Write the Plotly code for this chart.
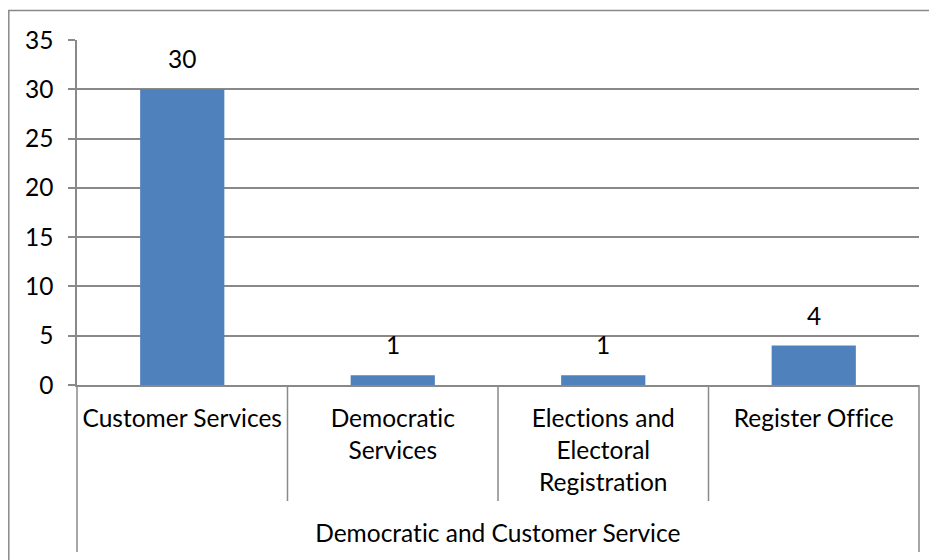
import plotly.graph_objects as go

# ---- data ----
group_label = "Democratic and Customer Service"
categories = ["Customer Services", "Democratic Services",
              "Elections and Electoral Registration", "Register Office"]
tick_text = ["Customer Services", "Democratic<br>Services",
             "Elections and<br>Electoral<br>Registration", "Register Office"]
values = [30, 1, 1, 4]
y_ticks = [0, 5, 10, 15, 20, 25, 30, 35]

FONT = "Lato, Calibri, Carlito, sans-serif"
FS = 24.5
GRID = "#898989"
BAR = "#4F81BD"

# the page body has an 8px margin; work in page pixels and convert
OFF = 8
W, H = 937 - OFF, 560 - OFF
PLOT_L, PLOT_R, PLOT_T, PLOT_B = 77, 919, 40, 385  # page pixels
ML = PLOT_L - OFF
MR = W - (PLOT_R - OFF)
MT = PLOT_T - OFF
MB = H - (PLOT_B - OFF)
plot_w = PLOT_R - PLOT_L
plot_h = PLOT_B - PLOT_T


def py(page_y):  # page pixel y -> paper y
    return (PLOT_B - page_y) / plot_h


def pxx(page_x):  # page pixel x -> paper x
    return (page_x - PLOT_L) / plot_w


fig = go.Figure()
fig.add_trace(go.Bar(
    x=categories, y=values, marker=dict(color=BAR, line=dict(width=0)),
    width=0.4, hoverinfo="x+y",
))

# data labels
annotations = []
for c, v in zip(categories, values):
    annotations.append(dict(
        x=c, y=v, xref="x", yref="y", text=str(v), showarrow=False,
        yanchor="bottom", yshift=14, font=dict(family=FONT, size=FS, color="#000000"),
    ))
# outer category label
annotations.append(dict(
    x=0.5, y=py(532), xref="paper", yref="paper", text=group_label,
    showarrow=False, yanchor="middle", xanchor="center",
    font=dict(family=FONT, size=FS, color="#000000"),
))

shapes = []
# inner dividers
for i in range(len(categories) - 1):
    shapes.append(dict(type="line", xref="x", yref="paper",
                       x0=i + 0.5, x1=i + 0.5, y0=0, y1=py(501),
                       line=dict(color=GRID, width=1.5)))
# outer edges
for xd in (0, 1):
    shapes.append(dict(type="line", xref="x domain", yref="paper",
                       x0=xd, x1=xd, y0=0, y1=py(552),
                       line=dict(color=GRID, width=1.5)))
# chart border
shapes.append(dict(type="rect", xref="paper", yref="paper",
                   x0=pxx(8.8), x1=pxx(960), y0=py(10.5), y1=py(600),
                   line=dict(color=GRID, width=1.5), fillcolor="rgba(0,0,0,0)"))

fig.update_layout(
    width=W, height=H,
    margin=dict(l=ML, r=MR, t=MT, b=MB, pad=0),
    paper_bgcolor="white", plot_bgcolor="white",
    showlegend=False,
    font=dict(family=FONT, size=FS, color="#000000"),
    annotations=annotations,
    shapes=shapes,
    bargap=0.6,
)
fig.update_xaxes(
    type="category", range=[-0.5, 3.5],
    tickmode="array", tickvals=categories, ticktext=tick_text,
    showgrid=False, showline=True, linecolor=GRID, linewidth=1.5,
    ticks="", ticklabelstandoff=11,
    tickfont=dict(family=FONT, size=FS, color="#000000"),
    zeroline=False, fixedrange=True,
)
fig.update_yaxes(
    range=[0, 35], tickmode="array", tickvals=y_ticks,
    ticktext=[str(t) for t in y_ticks],
    showgrid=True, gridcolor=GRID, gridwidth=1.5,
    showline=True, linecolor=GRID, linewidth=1.5,
    ticks="outside", ticklen=7, tickcolor=GRID, tickwidth=1.5,
    ticklabelstandoff=10,
    tickfont=dict(family=FONT, size=FS, color="#000000"),
    zeroline=False, fixedrange=True,
)

no_lig = ("var s=document.createElement('style');"
          "s.textContent='svg text{font-variant-ligatures:none !important;"
          "font-feature-settings:\"liga\" 0, \"clig\" 0 !important;}';"
          "document.head.appendChild(s);")
fig.write_html("out.html", post_script=no_lig)
